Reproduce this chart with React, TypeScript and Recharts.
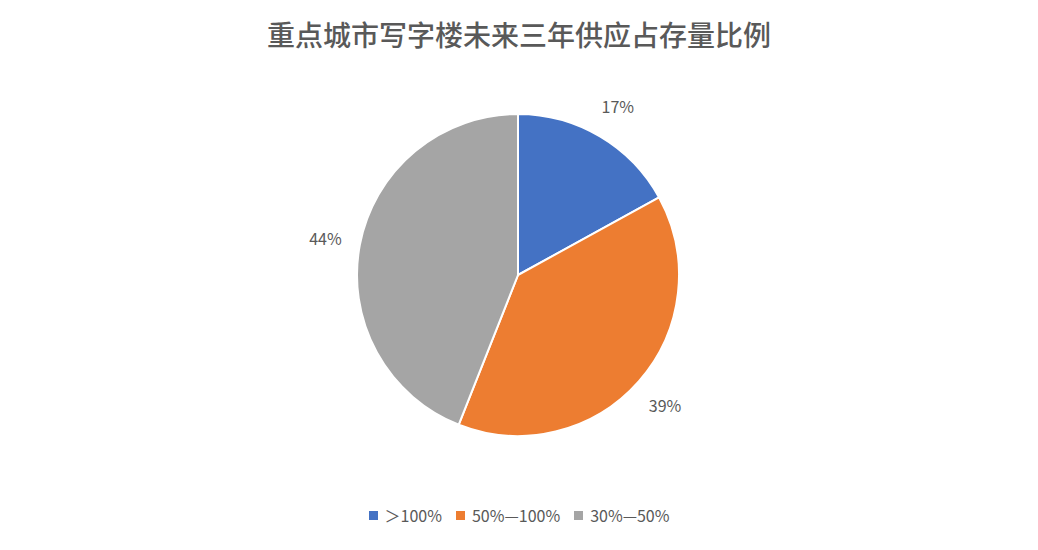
import React from "react";
import { PieChart, Pie, Cell, Legend } from "recharts";

const categories = ["＞100%", "50%—100%", "30%—50%"];
const shares = [17, 39, 44];
const colors = ["#4472C4", "#ED7D31", "#A5A5A5"];

const data = categories.map((name, i) => ({ name, value: shares[i] }));

const RADIAN = Math.PI / 180;
const FONT = '"Noto Sans CJK SC", "Noto Sans", sans-serif';

const renderLabel = ({ cx, cy, midAngle, outerRadius, value }: any) => {
    const radius = outerRadius + 35;
    const x = cx + radius * Math.cos(-midAngle * RADIAN);
    const y = cy + radius * Math.sin(-midAngle * RADIAN);
    return (
        <text
            x={x}
            y={y}
            fill="#595959"
            textAnchor="middle"
            dominantBaseline="central"
            fontSize={16}
            fontFamily={FONT}
        >
            {`${value}%`}
        </text>
    );
};

const renderLegend = () => (
    <div style={{ display: "flex", justifyContent: "center", fontFamily: FONT, fontSize: 16, color: "#595959" }}>
        {data.map((entry, i) => (
            <span key={entry.name} style={{ display: "flex", alignItems: "center", marginRight: i < data.length - 1 ? 14 : 0 }}>
                <span style={{ width: 9, height: 9, background: colors[i], display: "inline-block", marginRight: 7 }} />
                {entry.name}
            </span>
        ))}
    </div>
);

export default function App() {
    return (
        <div style={{ position: "absolute", left: 0, top: 0, width: 1038, height: 550, background: "#fff" }}>
            <div
                style={{
                    position: "absolute",
                    top: 14,
                    width: 1038,
                    textAlign: "center",
                    fontFamily: FONT,
                    fontSize: 28,
                    fontWeight: 500,
                    color: "#595959",
                }}
            >
                重点城市写字楼未来三年供应占存量比例
            </div>
            <PieChart width={1038} height={550}>
                <Pie
                    data={data}
                    dataKey="value"
                    cx={513}
                    cy={270}
                    outerRadius={161}
                    startAngle={90}
                    endAngle={-270}
                    stroke="#fff"
                    strokeWidth={2}
                    labelLine={false}
                    label={renderLabel}
                    isAnimationActive={false}
                >
                    {data.map((entry, index) => (
                        <Cell key={`${entry.name}-${index}`} fill={colors[index]} />
                    ))}
                </Pie>
                <Legend
                    content={renderLegend}
                    verticalAlign="bottom"
                    wrapperStyle={{ bottom: 23 }}
                />
            </PieChart>
        </div>
    );
}
